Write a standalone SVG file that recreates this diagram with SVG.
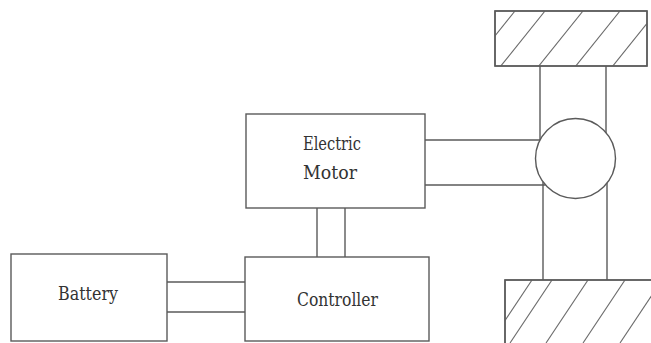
<svg xmlns="http://www.w3.org/2000/svg" width="651" height="343" viewBox="0 0 651 343">
<style>
.box{fill:#fff;stroke:#5a5a5a;stroke-width:1.4}
.ln{fill:none;stroke:#5a5a5a;stroke-width:1.4}
.hatch{fill:none;stroke:#6a6a6a;stroke-width:1.1}
.lbl{font-family:'DejaVu Serif',serif;font-size:18px;fill:#333}
</style>
<defs>
<clipPath id="clipTop"><rect x="495" y="11" width="152" height="55"/></clipPath>
<clipPath id="clipBot"><rect x="505" y="280" width="146" height="63"/></clipPath>
</defs>
<rect width="651" height="343" fill="#fff"/>
<g id="connectors">
<line class="ln" x1="167" y1="282" x2="245" y2="282"/>
<line class="ln" x1="167" y1="312" x2="245" y2="312"/>
<line class="ln" x1="317" y1="208" x2="317" y2="257"/>
<line class="ln" x1="345" y1="208" x2="345" y2="257"/>
<line class="ln" x1="425" y1="140" x2="540" y2="140"/>
<line class="ln" x1="425" y1="185" x2="545.5" y2="185"/>
<line class="ln" x1="540" y1="66" x2="540" y2="140"/>
<line class="ln" x1="606" y1="66" x2="606" y2="133"/>
<line class="ln" x1="543" y1="182" x2="543" y2="280"/>
<line class="ln" x1="607" y1="183" x2="607" y2="280"/>
</g>
<g id="battery">
<rect class="box" x="11" y="254" width="156" height="87"/>
<text class="lbl" x="58" y="300" textLength="60" lengthAdjust="spacingAndGlyphs">Battery</text>
</g>
<g id="controller">
<rect class="box" x="245" y="257" width="184" height="84"/>
<text class="lbl" x="297" y="306" textLength="81" lengthAdjust="spacingAndGlyphs">Controller</text>
</g>
<g id="motor">
<rect class="box" x="246" y="114" width="179" height="94"/>
<text class="lbl" x="303" y="150" textLength="58" lengthAdjust="spacingAndGlyphs">Electric</text>
<text class="lbl" x="303" y="179" textLength="54" lengthAdjust="spacingAndGlyphs">Motor</text>
</g>
<g id="differential">
<circle class="ln" cx="575.5" cy="158.5" r="40"/>
</g>
<g id="wheel-top">
<rect class="box" x="495" y="11" width="152" height="55"/>
<g class="hatch" clip-path="url(#clipTop)">
<line x1="470" y1="67" x2="515" y2="11"/>
<line x1="500" y1="67" x2="545" y2="11"/>
<line x1="538" y1="67" x2="583" y2="11"/>
<line x1="575" y1="67" x2="620" y2="11"/>
<line x1="612" y1="67" x2="657" y2="11"/>
</g>
<rect class="ln" x="495" y="11" width="152" height="55"/>
</g>
<g id="wheel-bottom">
<rect class="box" x="505" y="280" width="150" height="66"/>
<g class="hatch" clip-path="url(#clipBot)">
<line x1="490" y1="343" x2="532" y2="280"/>
<line x1="510" y1="343" x2="552" y2="280"/>
<line x1="546" y1="343" x2="588" y2="280"/>
<line x1="583" y1="343" x2="625" y2="280"/>
<line x1="620" y1="343" x2="662" y2="280"/>
</g>
<rect class="ln" x="505" y="280" width="150" height="66"/>
</g>
</svg>
